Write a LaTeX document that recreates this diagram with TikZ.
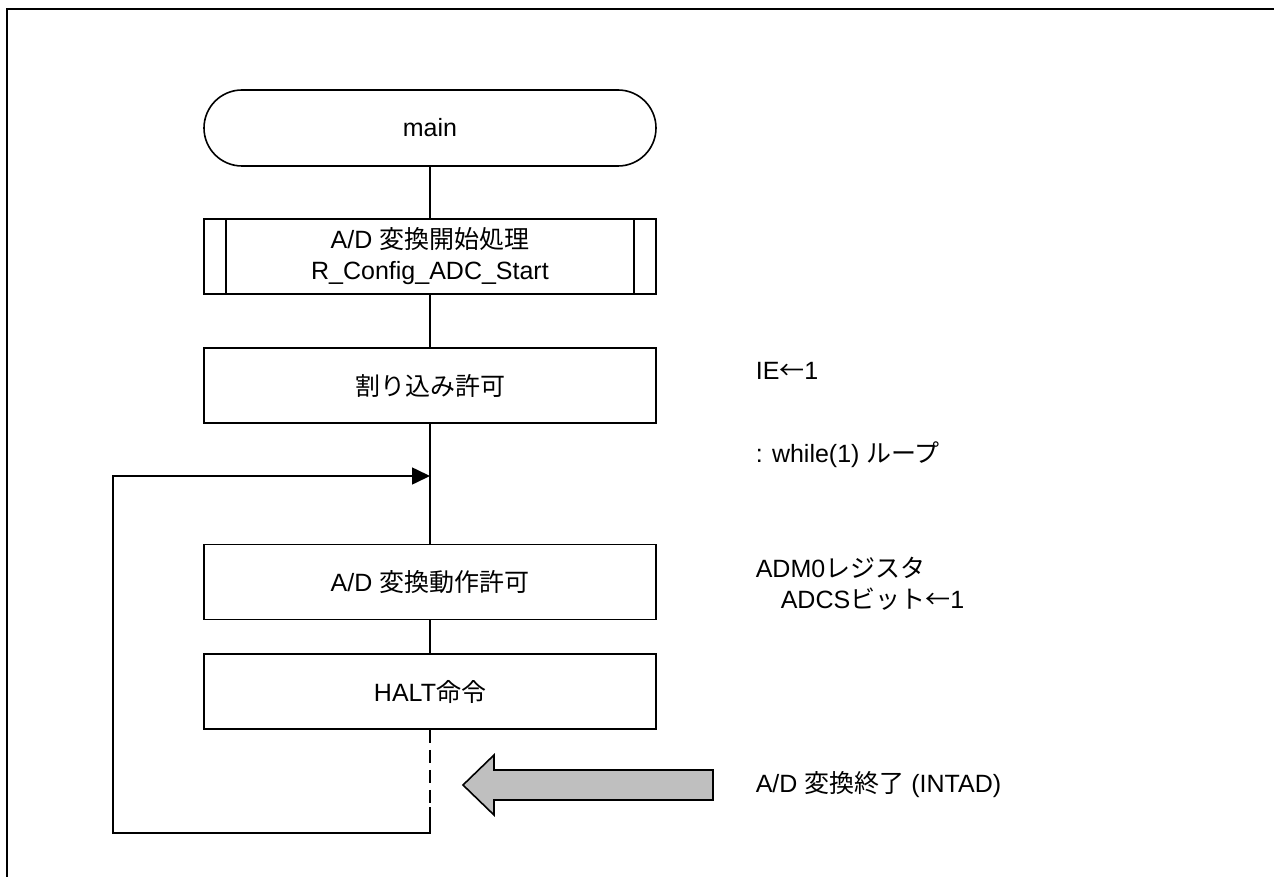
\documentclass[tikz,border=0pt]{standalone}
\usepackage{fontspec}
\setmainfont{Liberation Sans}
\newfontfamily\jp{Noto Sans CJK JP}
\newcommand{\ja}[1]{{\jp #1}}
\usetikzlibrary{arrows.meta}
\definecolor{arrowgray}{HTML}{BFBFBF}

\begin{document}
\begin{tikzpicture}[x=1pt,y=-1pt,
    font=\fontsize{25}{31}\selectfont,
    every node/.style={inner sep=0pt},
    line width=1.6pt,
    box/.style={draw,minimum width=452pt,minimum height=75pt,align=center},
    term/.style={box,minimum height=76pt,rounded corners=38pt},
    note/.style={anchor=west,align=left}]
  \useasboundingbox (0,0) rectangle (1274,877);
  \draw (7,877) |- (1274,9);
  \draw
    (430,128) node[term] (0){main}
    (430,256.5) node[box] (1){A/D \ja{変換開始処理}\\R\_Config\_ADC\_Start}
    (430,385.5) node[box] (2){\ja{割り込み許可}}
    (430,582) node[box] (3){A/D \ja{変換動作許可}}
    (430,691.5) node[box] (4){HALT\ja{命令}};
  \draw ([xshift=23pt]1.north west) -- ([xshift=23pt]1.south west);
  \draw ([xshift=-23pt]1.north east) -- ([xshift=-23pt]1.south east);
  \draw
    (755,371) node[note] (ie){IE\ja{←}1}
    (755,455) node[note] (loop){: while(1) \ja{ループ}}
    (755,584) node[note] (adm){ADM0\ja{レジスタ}\\\hspace*{25pt}ADCS\ja{ビット←}1}
    (755,785) node[note] (intad){A/D \ja{変換終了} (INTAD)};
  \coordinate (d) at (430,807);
  \coordinate (ll) at (113,833);
  \coordinate (in) at (430,476);
  \begin{scope}[-]
    \draw (0) to (1);
    \draw (1) to (2);
    \draw (2) to (3);
    \draw (3) to (4);
    \draw[dash pattern=on 13pt off 7pt] (4) to (d);
  \end{scope}
  \draw[-{Triangle[length=18pt,width=17pt]}] (d) |- (ll) |- (in);
  \draw[fill=arrowgray] (713,770) -- (494,770) -- (494,755) -- (463,785)
    -- (494,815) -- (494,800) -- (713,800) -- cycle;
\end{tikzpicture}
\end{document}
